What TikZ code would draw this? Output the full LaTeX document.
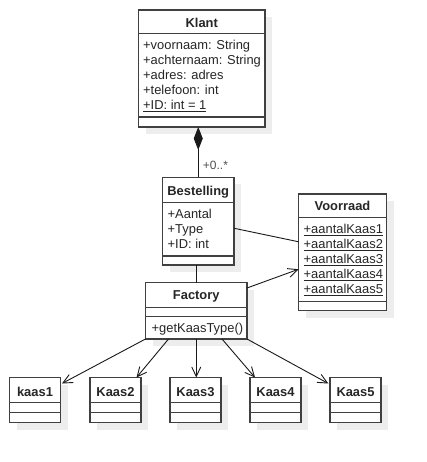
\documentclass[tikz,border=0pt]{standalone}
\usepackage{fontspec}
\setmainfont{Liberation Sans}
\usetikzlibrary{arrows.meta,shadows}

\definecolor{boxline}{HTML}{404040}
\definecolor{boxshade}{HTML}{EDEDED}
\definecolor{labelgray}{HTML}{505050}

\tikzset{
  x=1pt, y=-1pt,
  cls/.style={rectangle, draw=boxline, line width=1.3pt, fill=white,
    inner sep=0pt, outer sep=0pt, anchor=north west,
    general shadow={fill=boxshade, shadow xshift=7pt, shadow yshift=-7pt}},
  cmp/.style={draw=boxline, line width=1.3pt},
  title/.style={font=\fontsize{12.9}{15}\selectfont\bfseries, anchor=base, inner sep=0pt, text=black!85},
  attr/.style={font=\fontsize{12.9}{15}\selectfont, anchor=base west, inner sep=0pt, text=black!85},
  mult/.style={font=\fontsize{12}{14}\selectfont, anchor=base west, inner sep=0pt, text=labelgray},
  assoc/.style={draw=black!90, line width=0.9pt},
  dep/.style={assoc, -{Straight Barb[length=9.5pt,width=9pt]}},
  comp/.style={assoc, {Diamond[length=23pt,width=9pt]}-},
}

% class box: name, left, top, right, bottom, first and second compartment rule
\newcommand\umlbox[7]{%
  \node[cls, minimum width={#4-#2}, minimum height={#5-#3}] (#1) at (#2,#3) {};
  \draw[cmp] (#2,#6) -- (#4,#6);
  \draw[cmp] (#2,#7) -- (#4,#7);
}

\begin{document}
\begin{tikzpicture}
  \fill[white] (0,0) rectangle (426,462);
  \useasboundingbox (0,0) rectangle (426,462);

  % Klant
  \umlbox{klant}{138.5}{10}{265}{127}{33.5}{117}
  \node[title] (klantT) at (201.75,27.3) {Klant};
  \node[attr] (k1) at (143,49.3) {+voornaam: String};
  \node[attr] (k2) at (143,64.3) {+achternaam: String};
  \node[attr] (k3) at (143,79.3) {+adres: adres};
  \node[attr] (k4) at (143,94.3) {+telefoon: int};
  \node[attr] (k5) at (143,109.3) {\underline{+ID: int = 1}};

  % Bestelling
  \umlbox{bestelling}{162.5}{177.5}{234}{265}{202.5}{256}
  \node[title] (bestT) at (198.25,195) {Bestelling};
  \node[attr] (b1) at (167.5,218.3) {+Aantal};
  \node[attr] (b2) at (167.5,233.3) {+Type};
  \node[attr] (b3) at (167.5,248.3) {+ID: int};

  % Voorraad
  \umlbox{voorraad}{298.5}{194}{386.5}{310.5}{217.5}{301.5}
  \node[title] (voorT) at (342.5,210.7) {Voorraad};
  \node[attr] (v1) at (303.5,233.3) {\underline{+aantalKaas1}};
  \node[attr] (v2) at (303.5,248.3) {\underline{+aantalKaas2}};
  \node[attr] (v3) at (303.5,263.3) {\underline{+aantalKaas3}};
  \node[attr] (v4) at (303.5,278.3) {\underline{+aantalKaas4}};
  \node[attr] (v5) at (303.5,293.3) {\underline{+aantalKaas5}};

  % Factory
  \umlbox{factory}{145.5}{282.5}{247}{339}{307.5}{316.5}
  \node[title] (facT) at (196.25,299) {Factory};
  \node[attr] (f1) at (151.5,332.5) {+getKaasType()};

  % cheese classes
  \umlbox{kaas1}{9.5}{377.5}{60.5}{422.5}{402.5}{412.5}
  \umlbox{kaas2}{90}{377.5}{141}{422.5}{402.5}{412.5}
  \umlbox{kaas3}{170}{377.5}{221}{422.5}{402.5}{412.5}
  \umlbox{kaas4}{250}{377.5}{301}{422.5}{402.5}{412.5}
  \umlbox{kaas5}{330}{377.5}{381}{422.5}{402.5}{412.5}
  \node[title, font=\fontsize{12.9}{15}\selectfont\bfseries] (kaas1T) at (35,396) {kaas1};
  \node[title] (kaas2T) at (115.5,396) {Kaas2};
  \node[title] (kaas3T) at (195.5,396) {Kaas3};
  \node[title] (kaas4T) at (275.5,396) {Kaas4};
  \node[title] (kaas5T) at (355.5,396) {Kaas5};

  % associations
  \draw[comp] (klant.south -| bestelling.north) -- (bestelling.north);
  \node[mult] (multB) at (202.7,170) {+0..*};
  \draw[assoc] (bestelling.south -| factory.north) -- (factory.north);
  \draw[assoc] ([yshift=-7pt]bestelling.east) -- ([yshift=10.5pt]voorraad.west);
  \draw[dep] ([yshift=-5.5pt]factory.north east) -- ([yshift=-17pt]voorraad.west);

  % factory dependencies
  \draw[dep] (factory.south west) -- ([xshift=1.5pt,yshift=-6pt]kaas1.north east);
  \draw[dep] ([xshift=23pt]factory.south west) -- ([xshift=-4.5pt]kaas2.north east);
  \draw[dep] (factory.south) -- (factory.south |- kaas3.north);
  \draw[dep] ([xshift=-25pt]factory.south east) -- ([xshift=5pt]kaas4.north west);
  \draw[dep] (factory.south east) -- ([xshift=-1.7pt,yshift=-6pt]kaas5.north west);
\end{tikzpicture}
\end{document}
